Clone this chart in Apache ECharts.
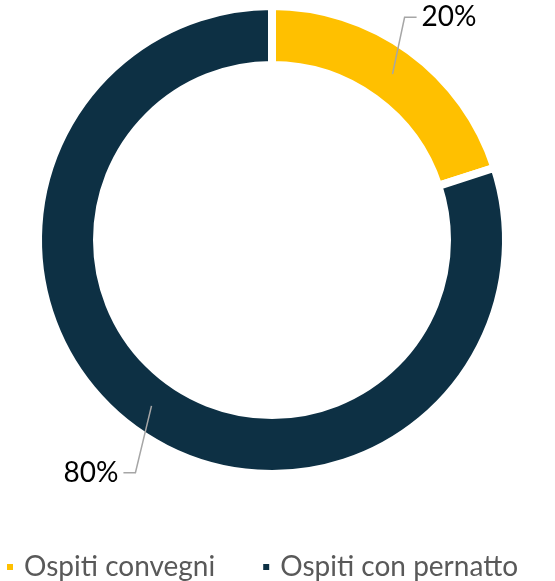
<!DOCTYPE html>
<html>
<head>
<meta charset="utf-8">
<script src="https://cdn.jsdelivr.net/npm/echarts@6/dist/echarts.min.js"></script>
<style>
  html, body { margin: 0; padding: 0; background: #fff; }
  #chartPie { width: 555px; height: 581px; }
</style>
</head>
<body>
<div id="chartPie"></div>
<script>
  var categories = ['Ospiti convegni', 'Ospiti con pernatto'];
  var percentages = [20, 80];
  var colors = ['#FFC000', '#0D3044'];

  var pieData = [];
  for (var i = 0; i < categories.length; i++) {
    pieData.push({ name: categories[i], value: percentages[i], itemStyle: { color: colors[i] } });
  }

  // nudge labels so the leader lines run more vertical, like in the original
  var labelShift = [[-22, -10], [18, 20]];

  var chartPie = echarts.init(document.getElementById('chartPie'));
  var option = {
    animation: false,
    textStyle: { fontFamily: 'Lato' },
    legend: {
      top: 548,
      left: 0,
      icon: 'rect',
      itemWidth: 8,
      itemHeight: 8,
      itemGap: 46,
      textStyle: { color: '#595959', fontSize: 28, fontFamily: 'Lato', padding: [0, 0, 0, 5] },
      data: categories.map(function (n, i) {
        return { name: n, itemStyle: { color: colors[i] } };
      })
    },
    series: [
      {
        type: 'pie',
        center: [272, 240],
        radius: [175, 234],
        startAngle: 90,
        clockwise: true,
        itemStyle: { borderColor: '#fff', borderWidth: 8 },
        label: { show: false },
        labelLine: { show: false },
        data: pieData
      },
      {
        // invisible pie, only anchors the labels in the middle of the ring
        type: 'pie',
        z: 5,
        center: [272, 240],
        radius: [0, 205],
        startAngle: 90,
        clockwise: true,
        silent: true,
        itemStyle: { color: 'transparent' },
        label: {
          show: true,
          formatter: '{d}%',
          fontSize: 28,
          color: '#000',
          fontFamily: 'Lato'
        },
        labelLine: {
          show: true,
          length: 58,
          length2: 12,
          lineStyle: { color: '#A6A6A6', width: 1.5 }
        },
        labelLayout: function (params) {
          var s = labelShift[params.dataIndex];
          var p = params.labelLinePoints;
          if (!p) return {};
          return {
            dx: s[0],
            dy: s[1],
            labelLinePoints: [
              p[0],
              [p[1][0] + s[0], p[1][1] + s[1]],
              [p[2][0] + s[0], p[2][1] + s[1]]
            ]
          };
        },
        data: pieData.map(function (d) { return { name: d.name, value: d.value }; })
      }
    ]
  };
  chartPie.setOption(option);
</script>
</body>
</html>
